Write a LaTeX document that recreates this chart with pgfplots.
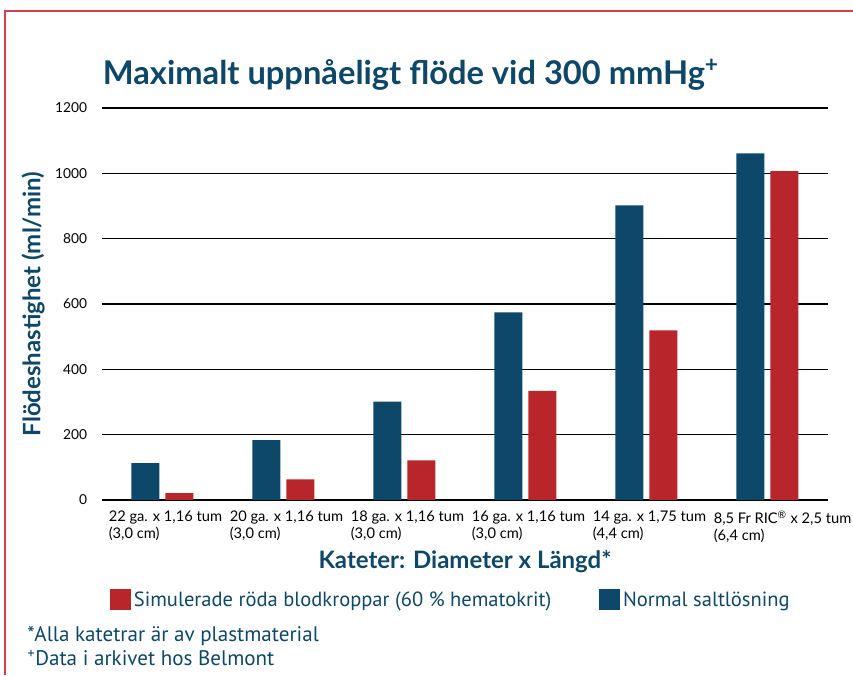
\documentclass[border=0pt]{standalone}
\usepackage{fontspec}
\setmainfont{PT Sans}
\newfontfamily\titlefont{Lato}
\newfontfamily\tickfont{Lato}
\usepackage{pgfplots}
\pgfplotsset{compat=1.18}
\definecolor{barblue}{HTML}{0D4769}
\definecolor{barred}{HTML}{B8252A}
\definecolor{txtblue}{HTML}{0E4767}
\definecolor{framered}{HTML}{D2414B}

\begin{document}
\begin{tikzpicture}
\path[use as bounding box] (0,0) rectangle (639.75pt,506.25pt);
\draw[framered, line width=1pt] (3.75pt,0) -- (3.75pt,498pt) -- (639.75pt,498pt);
\begin{axis}[
  at={(76.5pt,131.25pt)}, anchor=south west,
  scale only axis, width=544.5pt, height=294pt,
  xmin=-0.5, xmax=5.5, ymin=0, ymax=1200,
  ytick={0,200,...,1200},
  xtick={0,...,5},
  xticklabels={{22 ga. x 1,16 tum\\(3,0 cm)},{20 ga. x 1,16 tum\\(3,0 cm)},{18 ga. x 1,16 tum\\(3,0 cm)},{16 ga. x 1,16 tum\\(3,0 cm)},{14 ga. x 1,75 tum\\(4,4 cm)},{8,5 Fr RIC\textsuperscript{\textregistered} x 2,5 tum\\(6,4 cm)}},
  xticklabel style={anchor=north west, align=left, inner sep=0pt, xshift=-40.5pt, yshift=-8pt, font=\tickfont\fontsize{11}{13}\selectfont},
  yticklabel style={anchor=east, inner sep=0pt, xshift=-11pt, font=\tickfont\fontsize{10.3}{12}\selectfont},
  /pgf/number format/assume math mode=true,
  /pgf/number format/1000 sep={},
  axis line style={draw=none},
  major tick length=0pt,
  ymajorgrids, major grid style={black, line width=0.9pt},
  ybar, bar width=21pt,
  ylabel={Flödeshastighet (ml/min)},
  ylabel style={font=\titlefont\bfseries\fontsize{18}{20}\selectfont, text=txtblue, at={(axis description cs:0,0.5)}, anchor=center, yshift=51.75pt},
  xlabel={Kateter: Diameter x Längd*},
  xlabel style={font=\titlefont\bfseries\fontsize{18}{20}\selectfont, text=txtblue, at={(axis description cs:0.5,0)}, anchor=center, yshift=-46.5pt},
  legend columns=2,
  legend style={draw=none, fill=none, at={(axis description cs:0.011,-0.255)}, anchor=west, inner sep=0pt,
    font=\fontsize{15.4}{17}\selectfont, text=txtblue,
    /tikz/every even column/.append style={column sep=34pt}},
  legend image code/.code={\fill[#1] (0pt,-7.9pt) rectangle (15.75pt,7.9pt);},
]
\addplot[fill=barred, draw=none, bar shift=12.75pt] coordinates {(0,21) (1,63) (2,121) (3,334) (4,519) (5,1007)};
\addlegendentry{Simulerade röda blodkroppar (60 \% hematokrit)}
\addplot[fill=barblue, draw=none, bar shift=-12.75pt] coordinates {(0,113) (1,183) (2,301) (3,574) (4,902) (5,1061)};
\addlegendentry{Normal saltlösning}
\end{axis}
\node[anchor=base west, inner sep=0pt, text=txtblue, font=\titlefont\bfseries\fontsize{24.5}{28}\selectfont] at (77pt,442.5pt) {Maximalt uppnåeligt flöde vid 300 mmHg\textsuperscript{+}};
\node[anchor=base west, inner sep=0pt, text=txtblue, font=\fontsize{15.8}{18}\selectfont] at (20.25pt,25.5pt) {*Alla katetrar är av plastmaterial};
\node[anchor=base west, inner sep=0pt, text=txtblue, font=\fontsize{15.8}{18}\selectfont] at (20.25pt,7.5pt) {\textsuperscript{+}Data i arkivet hos Belmont};
\end{tikzpicture}
\end{document}
